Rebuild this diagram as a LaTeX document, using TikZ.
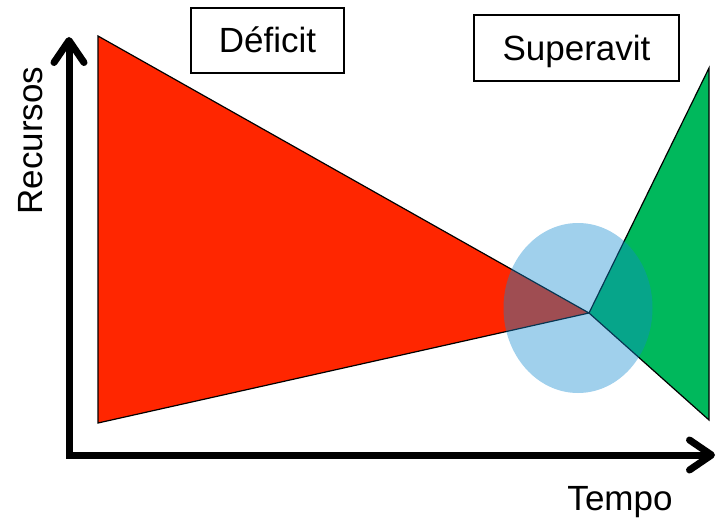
\documentclass[tikz,border=0pt]{standalone}
\usepackage{fontspec}
\setmainfont{Liberation Sans}
\usetikzlibrary{arrows.meta}
\definecolor{defc}{RGB}{255,38,0}
\definecolor{supc}{RGB}{0,184,92}
\definecolor{zone}{RGB}{17,137,207}

\begin{document}
\begin{tikzpicture}[x=1pt,y=-1pt,font=\fontsize{35}{42}\selectfont,
  >={Straight Barb[length=22pt,width=30pt,round]},
  box/.style={draw,line width=1.2pt,inner sep=0pt,text height=25pt,text depth=0pt,align=center},
  lbl/.style={inner sep=0pt,anchor=base},
  tri/.style={draw=black,line width=1.2pt},
  axis/.style={line width=7pt,line join=miter,<->}]
  \useasboundingbox (0,0) rectangle (718,519);
  \coordinate (o) at (69,455);
  \coordinate (ytop) at (69,37);
  \coordinate (xend) at (715,455);
  \coordinate (d1) at (98,36);
  \coordinate (d2) at (98,423);
  \coordinate (m) at (589,313);
  \coordinate (s1) at (709,68);
  \coordinate (s2) at (709,420);
  \filldraw[tri,fill=defc] (d1) -- (d2) -- (m) -- cycle;
  \filldraw[tri,fill=supc] (m) -- (s1) -- (s2) -- cycle;
  \fill[zone,opacity=0.4] (578,308) ellipse [x radius=74.5,y radius=85];
  \draw[axis] (ytop) -- (o) -- (xend);
  \node[box,minimum width=153pt,minimum height=65pt] (def) at (267.5,40.5) {Déficit};
  \node[box,minimum width=205pt,minimum height=66pt] (sup) at (576.5,48) {Superavit};
  \node[lbl] (tempo) at (620,510) {Tempo};
  \node[lbl,rotate=90] (rec) at (42,140.5) {Recursos};
\end{tikzpicture}
\end{document}
